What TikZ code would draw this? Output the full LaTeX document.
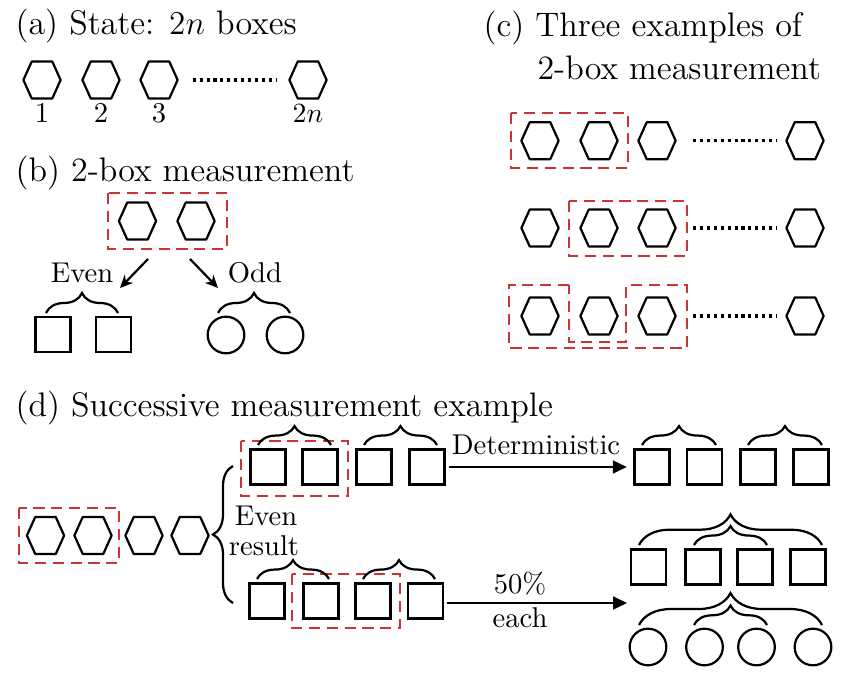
\documentclass[tikz,border=0pt]{standalone}
\usetikzlibrary{arrows.meta,decorations.pathreplacing}
\definecolor{boxred}{RGB}{204,51,51}
\begin{document}
\begin{tikzpicture}[x=0.36pt,y=-0.36pt,
 shapeline/.style={line width=0.8pt, line join=round},
 hexnode/.style={minimum width=13.4pt, minimum height=13.3pt, inner sep=0pt, outer sep=0pt,
   append after command={\pgfextra{\let\hexn\tikzlastnode
     \draw[shapeline] (\hexn.west) -- ([xshift=-3.7pt]\hexn.north) -- ([xshift=3.7pt]\hexn.north)
       -- (\hexn.east) -- ([xshift=3.7pt]\hexn.south) -- ([xshift=-3.7pt]\hexn.south) -- cycle;}}},
 sqnode/.style={draw, line width=0.8pt, minimum size=12.6pt, inner sep=0pt, outer sep=0pt},
 circnode/.style={draw, circle, line width=0.8pt, minimum size=13.2pt, inner sep=0pt, outer sep=0pt},
 redbox/.style={draw=boxred, line width=0.6pt, dash pattern=on 4pt off 2.4pt},
 dotline/.style={line width=1.1pt, dash pattern=on 1.1pt off 1.4pt},
 brc/.style={decorate, decoration={brace, amplitude=#1}, line width=0.8pt},
 title/.style={anchor=base west, font=\fontsize{12.25pt}{14pt}\selectfont, inner sep=0pt},
 lab/.style={anchor=base, inner sep=0pt, font=\fontsize{10.3pt}{12pt}\selectfont},
 arrb/.style={-{Stealth[length=4.6pt,width=4.2pt]}, line width=0.8pt},
 arrd/.style={-{Triangle[length=5pt,width=4.6pt]}, line width=0.8pt},
]
\useasboundingbox (0,0) rectangle (853,681);

% ---------------- (a)
\node[title] (ta) at (15,35) {(a) State: $2n$ boxes};
\node[hexnode] (a1) at (42,80) {};
\node[hexnode] (a2) at (101,80) {};
\node[hexnode] (a3) at (159,80) {};
\node[hexnode] (a4) at (308,80) {};
\draw[dotline, shorten <=5.4pt, shorten >=4.7pt] (a3) -- (a4);
\node[lab] (la1) at (42,123) {1};
\node[lab] (la2) at (101,123) {2};
\node[lab] (la3) at (159,123) {3};
\node[lab] (la4) at (308,123) {$2n$};

% ---------------- (b)
\node[title] (tb) at (15,182) {(b) 2-box measurement};
\node[hexnode] (b1) at (137.5,221) {};
\node[hexnode] (b2) at (196,221) {};
\draw[redbox] (108,193) rectangle (227,249);
\coordinate (bes) at (148,259);
\coordinate (bee) at (120,288);
\coordinate (bos) at (190,259);
\coordinate (boe) at (218,288);
\draw[arrb] (bes) -- (bee);
\draw[arrb] (bos) -- (boe);
\node[lab] (leven) at (82,283) {Even};
\node[lab] (lodd) at (255,283) {Odd};
\node[sqnode] (bs1) at (53,334.5) {};
\node[sqnode] (bs2) at (113.5,334.5) {};
\node[circnode] (bc1) at (226,335) {};
\node[circnode] (bc2) at (285,335) {};
\draw[brc=7.2pt] (46,313) -- (118,313);
\draw[brc=7.2pt] (218,313) -- (290,313);

% ---------------- (c)
\node[title] (tc1) at (483,37) {(c) Three examples of};
\node[title] (tc2) at (537,80) {2-box measurement};
% row 1
\node[hexnode] (c11) at (540,140.7) {};
\node[hexnode] (c12) at (599,140.7) {};
\node[hexnode] (c13) at (657,140.7) {};
\node[hexnode] (c14) at (805,140.7) {};
\draw[dotline, shorten <=6.2pt, shorten >=3.3pt] (c13) -- (c14);
\draw[redbox] (511,113) rectangle (628,168);
% row 2
\node[hexnode] (c21) at (540,228) {};
\node[hexnode] (c22) at (599,228) {};
\node[hexnode] (c23) at (657,228) {};
\node[hexnode] (c24) at (805,228) {};
\draw[dotline, shorten <=6.2pt, shorten >=3.3pt] (c23) -- (c24);
\draw[redbox] (569,201) rectangle (687,256);
% row 3
\node[hexnode] (c31) at (540,316) {};
\node[hexnode] (c32) at (599,316) {};
\node[hexnode] (c33) at (657,316) {};
\node[hexnode] (c34) at (805,316) {};
\draw[dotline, shorten <=6.2pt, shorten >=3.3pt] (c33) -- (c34);
\draw[redbox] (569,285) -- (509,285) -- (509,348) -- (687,348) -- (687,285) -- (626,285)
  -- (626,342) -- (569,342) -- cycle;

% ---------------- (d)
\node[title] (td) at (15,417) {(d) Successive measurement example};
\node[hexnode] (d1) at (45.5,535.5) {};
\node[hexnode] (d2) at (93,535.5) {};
\node[hexnode] (d3) at (144,535.5) {};
\node[hexnode] (d4) at (190,535.5) {};
\draw[redbox] (19,508) rectangle (119,563);
\draw[brc=7.2pt] (233,603) -- (233,466);
\node[lab] (lev2) at (266,526) {Even};
\node[lab] (lres) at (264,556) {result};

% top row
\node[sqnode] (t1) at (268,467) {};
\node[sqnode] (t2) at (320,467) {};
\node[sqnode] (t3) at (374,467) {};
\node[sqnode] (t4) at (427,467) {};
\draw[redbox] (241,441) rectangle (348,496);
\draw[brc=6.8pt] (258,445) -- (331,445);
\draw[brc=6.8pt] (364,445) -- (437,445);

% bottom row
\node[sqnode] (u1) at (267,601) {};
\node[sqnode] (u2) at (321,601) {};
\node[sqnode] (u3) at (373,601) {};
\node[sqnode] (u4) at (425.5,601) {};
\draw[redbox] (292,574) rectangle (400,628);
\draw[brc=6.8pt] (257,579) -- (329,579);
\draw[brc=6.8pt] (363,579) -- (435,579);

% right top
\node[sqnode] (r1) at (652,467) {};
\node[sqnode] (r2) at (704.5,467) {};
\node[sqnode] (r3) at (758,467) {};
\node[sqnode] (r4) at (811,467) {};
\draw[brc=6.8pt] (642,445) -- (716,445);
\draw[brc=6.8pt] (748,445) -- (822,445);
\draw[arrd, shorten <=1.6pt, shorten >=2.8pt] (t4) -- (r1);
\node[lab] (ldet) at (536,455) {Deterministic};

% right middle squares
\node[sqnode] (m1) at (648.5,567) {};
\node[sqnode] (m2) at (703,567) {};
\node[sqnode] (m3) at (755,567) {};
\node[sqnode] (m4) at (808,567) {};
\draw[brc=11pt] (639,545) -- (822,545);
\draw[brc=6.8pt] (694,545) -- (767,545);

% circles
\node[circnode] (k1) at (648,647) {};
\node[circnode] (k2) at (704.5,647) {};
\node[circnode] (k3) at (756.5,647) {};
\node[circnode] (k4) at (813,647) {};
\draw[brc=11.5pt] (639,625) -- (822,625);
\draw[brc=7pt] (694,625) -- (767,625);

\coordinate (pend) at (627,603);
\draw[arrd, shorten <=1.6pt] (u4.east |- pend) -- (pend);
\node[lab] (l50) at (520,594) {50\%};
\node[lab] (leach) at (520,627) {each};
\end{tikzpicture}
\end{document}
